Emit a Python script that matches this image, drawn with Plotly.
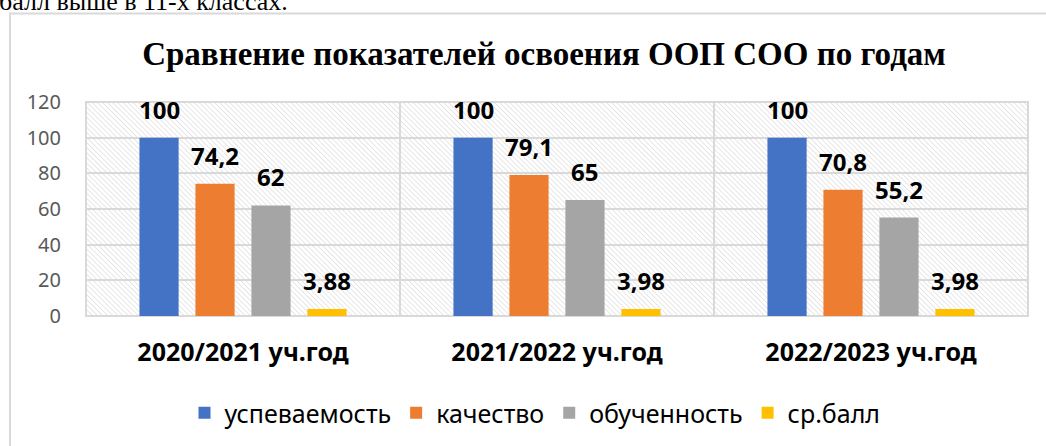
import base64
import plotly.graph_objects as go

# data
categories = ['2020/2021 уч.год', '2021/2022 уч.год', '2022/2023 уч.год']
series_names = ['успеваемость', 'качество', 'обученность', 'ср.балл']
uspevaemost = [100, 100, 100]
kachestvo = [74.2, 79.1, 70.8]
obuchennost = [62, 65, 55.2]
sr_ball = [3.88, 3.98, 3.98]
y_ticks = [0, 20, 40, 60, 80, 100, 120]

series_values = [uspevaemost, kachestvo, obuchennost, sr_ball]
colors = ['#4472C4', '#ED7D31', '#A5A5A5', '#FFC000']

W, H = 1046, 446
L, R, T, B = 86, 18, 102, 129
PW, PH = W - L - R, H - T - B

BARGAP = 0.287
SLOT = (1 - BARGAP) / 4


def px_x(p):
    return (p - L) / PW


def px_y(p):
    return (H - B - p) / PH


# hatch background for plot area
hatch_svg = (
    f'<svg xmlns="http://www.w3.org/2000/svg" width="{PW}" height="{PH}">'
    '<defs><pattern id="p" width="3.6" height="3.6" patternUnits="userSpaceOnUse" '
    'patternTransform="rotate(-45)">'
    '<line x1="0" y1="0" x2="0" y2="3.6" stroke="#d6d6d6" stroke-width="1.2"/>'
    '</pattern></defs><rect width="100%" height="100%" fill="url(#p)"/></svg>'
)
hatch_uri = 'data:image/svg+xml;base64,' + base64.b64encode(hatch_svg.encode()).decode()

fig = go.Figure()
x_idx = list(range(len(categories)))

for name, vals, col in zip(series_names, series_values, colors):
    fig.add_trace(go.Bar(
        x=x_idx,
        y=vals,
        name=name,
        marker=dict(color=col, line=dict(width=0)),
        hoverinfo='y+name'
    ))

# data labels
annotations = []
for j, vals in enumerate(series_values):
    for i, v in enumerate(vals):
        annotations.append(dict(
            x=i + (j - 1.5) * SLOT, y=v, xref='x', yref='y',
            text='<b>' + f'{v:g}'.replace('.', ',') + '</b>',
            showarrow=False, yanchor='bottom', yshift=10,
            font=dict(family='Noto Sans', size=24, color='#000000')
        ))

# text cut off above the chart frame
annotations.append(dict(
    x=px_x(-3), y=px_y(1), xref='paper', yref='paper',
    text='балл выше в 11-х классах.', showarrow=False,
    xanchor='left', yanchor='middle',
    font=dict(family='Liberation Serif', size=26, color='#000000')
))

fig.update_layout(
    width=W, height=H,
    margin=dict(l=L, r=R, t=T, b=B),
    paper_bgcolor='white',
    plot_bgcolor='rgba(0,0,0,0)',
    barmode='group',
    bargap=BARGAP,
    bargroupgap=0.30,
    title=dict(
        text='<b>Сравнение показателей освоения ООП СОО по годам</b>',
        xref='container', x=544 / W, xanchor='center',
        yref='container', y=1 - 53 / H, yanchor='middle',
        font=dict(family='Liberation Serif', size=33, color='#000000')
    ),
    xaxis=dict(
        range=[-0.5, 2.5],
        tickvals=x_idx,
        ticktext=['<b>' + c + '</b>' for c in categories],
        tickfont=dict(family='Noto Sans', size=25, color='#000000'),
        showgrid=False,
        zeroline=False,
        showline=False,
        ticks='',
        ticklabelstandoff=19,
        minor=dict(tickvals=[0.5, 1.5], showgrid=True, gridcolor='#d9d9d9', gridwidth=2),
        fixedrange=True
    ),
    yaxis=dict(
        range=[0, 120],
        tickvals=y_ticks,
        tickfont=dict(family='Noto Sans', size=20, color='#595959'),
        showgrid=True,
        gridcolor='#d9d9d9',
        gridwidth=2,
        zeroline=False,
        showline=False,
        ticks='',
        ticklabelstandoff=24,
        fixedrange=True
    ),
    legend=dict(
        orientation='h',
        x=px_x(535), xanchor='center',
        y=px_y(413), yanchor='middle',
        font=dict(family='Noto Sans', size=25, color='#000000'),
        itemwidth=30,
        traceorder='normal'
    ),
    images=[dict(
        source=hatch_uri, xref='paper', yref='paper',
        x=0, y=1, sizex=1, sizey=1, sizing='stretch',
        xanchor='left', yanchor='top', layer='below'
    )],
    shapes=[
        # plot area border
        dict(type='rect', xref='paper', yref='paper', x0=0, y0=0, x1=1, y1=1,
             line=dict(color='#d9d9d9', width=2), layer='below'),
        # chart frame
        dict(type='rect', xref='paper', yref='paper',
             x0=px_x(10), y0=px_y(460), x1=px_x(1060), y1=px_y(13),
             line=dict(color='#d9d9d9', width=2), layer='below'),
    ],
    annotations=annotations,
    showlegend=True
)

fig.write_html('out.html', config={'displayModeBar': False},
               post_script="document.body.style.margin='0px';")
